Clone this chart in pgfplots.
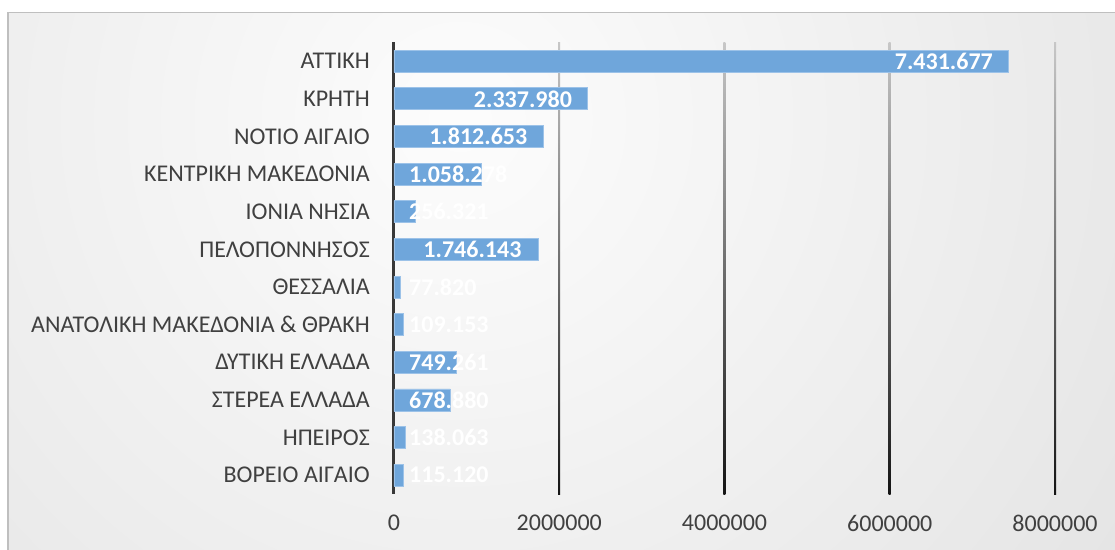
\documentclass[border=0pt]{standalone}
\usepackage{pgfplots}
\pgfplotsset{compat=1.18}
\usepackage{fontspec}
\setmainfont{Carlito}
\definecolor{barblue}{HTML}{6FA6DB}
\definecolor{baredge}{HTML}{9CC2E8}
\definecolor{txt}{HTML}{404040}
\pgfdeclarelayer{bg}
\pgfsetlayers{bg,main}
\begin{document}
\begin{tikzpicture}
\begin{axis}[
  scale only axis, width=661bp, height=451.6bp,
  xmin=0, xmax=8000000, ymin=-0.5, ymax=11.5,
  y dir=reverse,
  axis x line=bottom, axis y line=left,
  x axis line style={draw=none},
  y axis line style={-, draw=black!78, line width=3bp},
  major tick length=0pt, tick style={draw=none},
  xtick={0,2000000,4000000,6000000,8000000},
  scaled x ticks=false,
  xticklabel={\pgfmathprintnumber[fixed,precision=0,1000 sep={}]{\tick}},
  xticklabel style={font=\fontsize{24bp}{28bp}\selectfont, text=txt, anchor=north, inner sep=0pt, yshift=-21bp},
  /pgf/number format/assume math mode=true,
  ytick={0,...,11},
  yticklabels={ΑΤΤΙΚΗ, ΚΡΗΤΗ~, ΝΟΤΙΟ ΑΙΓΑΙΟ, ΚΕΝΤΡΙΚΗ ΜΑΚΕΔΟΝΙΑ, ΙΟΝΙΑ ΝΗΣΙΑ, ΠΕΛΟΠΟΝΝΗΣΟΣ, ΘΕΣΣΑΛΙΑ, ΑΝΑΤΟΛΙΚΗ ΜΑΚΕΔΟΝΙΑ \& ΘΡΑΚΗ, ΔΥΤΙΚΗ ΕΛΛΑΔΑ, ΣΤΕΡΕΑ ΕΛΛΑΔΑ, ΗΠΕΙΡΟΣ, ΒΟΡΕΙΟ ΑΙΓΑΙΟ},
  yticklabel style={font=\fontsize{24bp}{28bp}\selectfont, text=txt, anchor=east, inner sep=0pt, xshift=-24bp},
  clip=false,
]
\coordinate (o) at (axis cs:0,11.5);
\pgfplotsinvokeforeach{2000000,4000000,6000000,8000000}{
  \shade[top color=black!22, bottom color=black!92] ([xshift=-1bp]axis cs:#1,-0.5) rectangle ([xshift=1bp]axis cs:#1,11.5);
}
\addplot[xbar, bar width=22bp, fill=barblue, draw=baredge, line width=0.8bp] coordinates {
(7431677,0) (2337980,1) (1812653,2) (1058278,3) (256321,4) (1746143,5)
(77820,6) (109153,7) (749261,8) (678880,9) (138063,10) (115120,11)};
\addplot[draw=none, mark=none, nodes near coords, point meta=explicit symbolic,
  every node near coord/.append style={anchor=east, inner sep=0pt, text=white, font=\bfseries\fontsize{24bp}{28bp}\selectfont}]
  coordinates {(7250000,0) [7.431.677] (2156000,1) [2.337.980] (1615000,2) [1.812.653] (1545000,5) [1.746.143]};
\addplot[draw=none, mark=none, nodes near coords, point meta=explicit symbolic,
  every node near coord/.append style={anchor=west, inner sep=0pt, text=white, font=\bfseries\fontsize{24bp}{28bp}\selectfont}]
  coordinates {(181500,3) [1.058.278] (181500,4) [256.321] (181500,6) [77.820] (181500,7) [109.153]
  (181500,8) [749.261] (181500,9) [678.880] (181500,10) [138.063] (181500,11) [115.120]};
\end{axis}
\begin{pgfonlayer}{bg}
\begin{scope}[shift={(o)}, x=1bp, y=1bp]
\fill[white] (-394,-56) rectangle (721,494);
\begin{scope}
\clip (-386,-56) rectangle (721,481);
\shade[inner color=white!98!gray, outer color=black!18] (66,374) circle (1450);
\end{scope}
\draw[black!25, line width=1.5bp] (-386,-56) -- (-386,481.5) -- (721,481.5);
\end{scope}
\end{pgfonlayer}
\pgfresetboundingbox
\path[use as bounding box] ([shift={(-394bp,-56bp)}]o) rectangle ([shift={(721bp,494bp)}]o);
\end{tikzpicture}
\end{document}
